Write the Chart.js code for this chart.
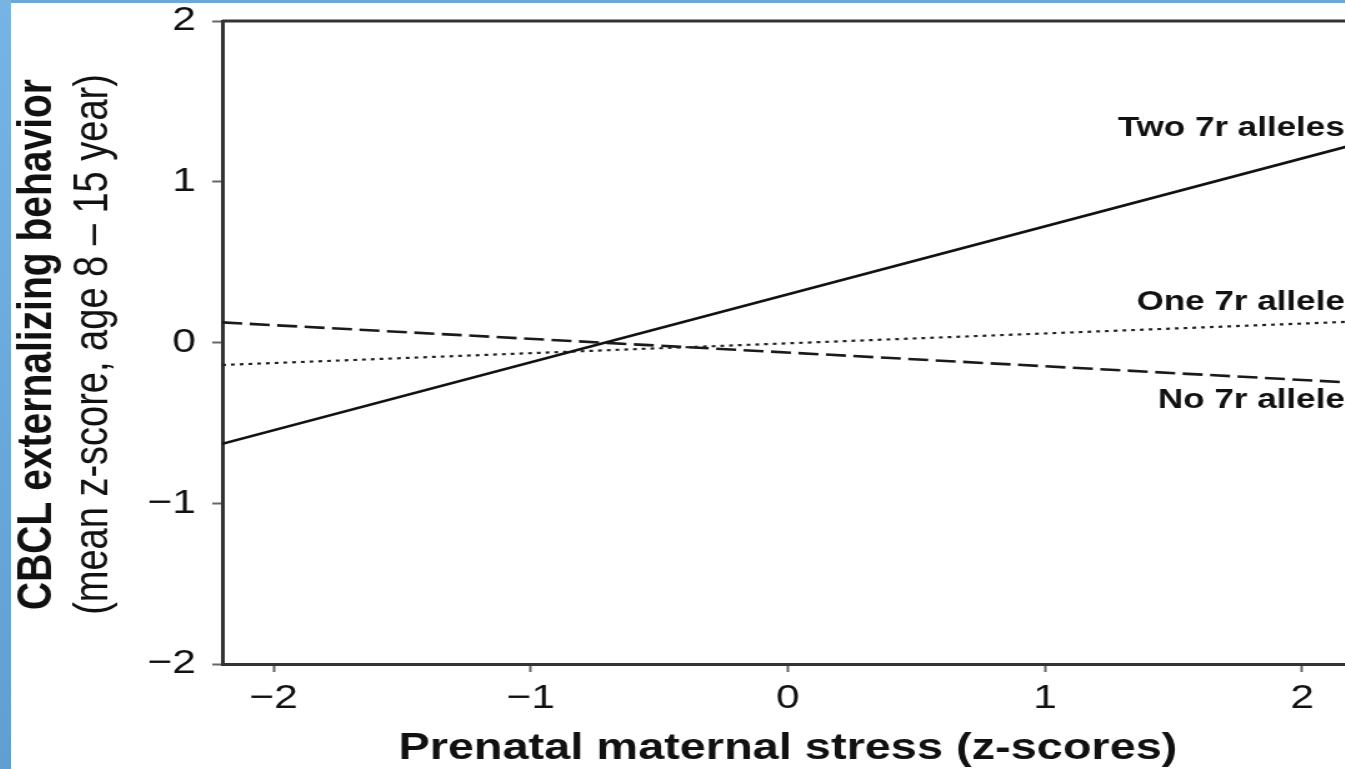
<!DOCTYPE html>
<html>
<head>
<meta charset="utf-8">
<script src="https://cdn.jsdelivr.net/npm/chart.js@4"></script>
<style>
  html, body { margin: 0; padding: 0; overflow: hidden; background: #fff; }
  body { width: 1345px; height: 769px; position: relative; }
  #edgeLeft { position: absolute; left: 0; top: 0; width: 11px; height: 769px; background: linear-gradient(#76b4e4, #5f9fd2); }
  #edgeTop { position: absolute; left: 0; top: 0; width: 1345px; height: 3px; background: #6aa8d8; }
  /* the source picture is stretched sideways, so the whole chart is too */
  #wrap { position: absolute; left: 11px; top: 3px; width: 1080px; height: 766px; transform: scaleX(1.25); transform-origin: 0 0; }
</style>
</head>
<body>
<div id="edgeTop"></div>
<div id="edgeLeft"></div>
<div id="wrap"><canvas id="chart" width="1080" height="766"></canvas></div>
<script>
const stressValues = [-2.2, 2.2];
const twoAlleles = [-0.63, 1.23];
const oneAllele = [-0.14, 0.13];
const noAllele = [0.125, -0.25];
const seriesNames = ['Two 7r alleles', 'One 7r allele', 'No 7r allele'];
const xTicks = [-2, -1, 0, 1, 2];
const yTicks = [-2, -1, 0, 1, 2];
const xTitle = 'Prenatal maternal stress (z-scores)';
const yTitle = ['CBCL externalizing behavior', '(mean z-score, age 8 \u2013 15 year)'];

const FONT = '"Liberation Sans", Arial, sans-serif';
const fmt = v => (v < 0 ? '\u2212' + Math.abs(v) : String(v));
const points = arr => stressValues.map((x, i) => ({ x: x, y: arr[i] }));

// where the series names sit (y value of the text baseline)
const labelSpots = [1.285, 0.2, -0.41];

const annotate = {
  id: 'annotate',
  beforeDatasetsDraw(chart) {
    const { ctx, chartArea: a } = chart;
    ctx.save();
    ctx.strokeStyle = '#333';
    ctx.lineWidth = 3;
    ctx.beginPath();
    ctx.moveTo(a.left, a.top);
    ctx.lineTo(a.right, a.top);
    ctx.lineTo(a.right, a.bottom);
    ctx.stroke();
    ctx.restore();
  },
  afterDraw(chart) {
    const { ctx, chartArea: a } = chart;
    const y = chart.scales.y;
    ctx.save();
    ctx.fillStyle = '#111';
    ctx.font = 'bold 28px ' + FONT;
    ctx.textAlign = 'right';
    ctx.textBaseline = 'alphabetic';
    seriesNames.forEach((name, i) => {
      ctx.fillText(name, a.right - 7, y.getPixelForValue(labelSpots[i]));
    });
    ctx.restore();

    ctx.save();
    ctx.fillStyle = '#111';
    ctx.textAlign = 'center';
    ctx.textBaseline = 'alphabetic';
    const cy = (a.top + a.bottom) / 2 + 2;
    ctx.translate(32, cy);
    ctx.rotate(-Math.PI / 2);
    ctx.font = 'bold 39px ' + FONT;
    ctx.fillText(yTitle[0], 0, 0);
    ctx.font = '38px ' + FONT;
    ctx.fillText(yTitle[1], 0, 45);
    ctx.restore();
  }
};

new Chart(document.getElementById('chart'), {
  type: 'line',
  data: {
    datasets: [
      { label: seriesNames[0], data: points(twoAlleles), borderColor: '#111', borderWidth: 2.6 },
      { label: seriesNames[1], data: points(oneAllele), borderColor: '#222', borderWidth: 2.2, borderDash: [3, 4] },
      { label: seriesNames[2], data: points(noAllele), borderColor: '#1a1a1a', borderWidth: 2.6, borderDash: [16, 6] }
    ]
  },
  options: {
    responsive: false,
    animation: false,
    devicePixelRatio: 1,
    layout: { padding: { left: 0, top: 18, right: 6, bottom: 0 } },
    elements: { point: { radius: 0 }, line: { tension: 0, fill: false } },
    plugins: { legend: { display: false }, tooltip: { enabled: false } },
    scales: {
      x: {
        type: 'linear',
        min: -2.2,
        max: 2.2,
        afterBuildTicks: s => { s.ticks = xTicks.map(v => ({ value: v })); },
        afterFit: s => { s.height = 105; s.paddingLeft = 0; s.paddingRight = 0; },
        grid: { drawOnChartArea: false, drawTicks: true, tickLength: 8, tickColor: '#666', tickWidth: 2 },
        border: { display: true, color: '#333', width: 3 },
        ticks: { color: '#111', padding: 10, maxRotation: 0, font: { family: FONT, size: 34, lineHeight: 1 }, callback: v => fmt(v) },
        title: { display: true, text: xTitle, color: '#111', padding: { top: 0, bottom: 2 }, font: { family: FONT, size: 37.5, weight: 'bold', lineHeight: 1 } }
      },
      y: {
        min: -2,
        max: 2,
        afterBuildTicks: s => { s.ticks = yTicks.map(v => ({ value: v })); },
        afterFit: s => { s.width = 169; s.paddingTop = 0; s.paddingBottom = 0; },
        grid: { drawOnChartArea: false, drawTicks: true, tickLength: 8, tickColor: '#666', tickWidth: 2 },
        border: { display: true, color: '#333', width: 3 },
        ticks: { color: '#111', padding: 13, font: { family: FONT, size: 34, lineHeight: 1 }, callback: v => fmt(v) }
      }
    }
  },
  plugins: [annotate]
});
</script>
</body>
</html>
